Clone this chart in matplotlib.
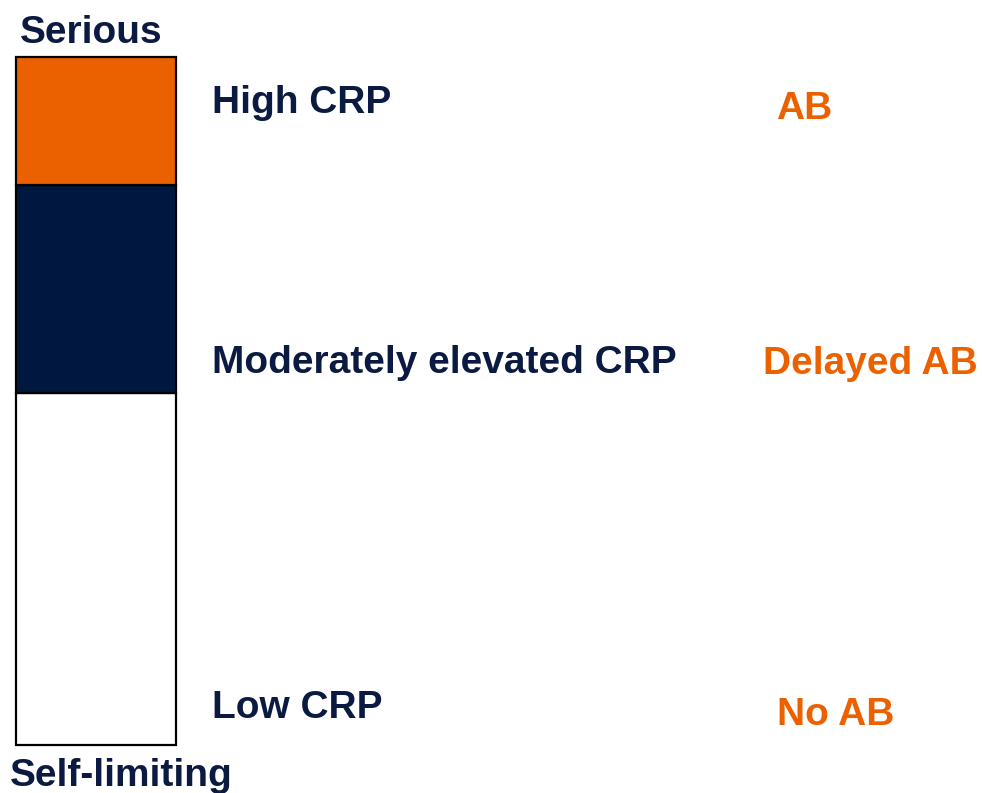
import matplotlib
matplotlib.use("Agg")
import matplotlib.pyplot as plt
from matplotlib import font_manager

# ---- data ----
segment_labels = ["Low CRP", "Moderately elevated CRP", "High CRP"]
segment_heights = [352, 208, 128]          # bottom -> top (relative sizes)
segment_colors = ["#FFFFFF", "#00173F", "#EB6100"]
actions = ["No AB", "Delayed AB", "AB"]
top_label = "Serious"
bottom_label = "Self-limiting"

NAVY = "#0B1A40"
ORANGE = "#EB6100"

names = {f.name for f in font_manager.fontManager.ttflist}
fam = ["Liberation Sans Narrow", "Liberation Sans", "DejaVu Sans"]
fam = [f for f in fam if f in names] + ["DejaVu Sans"]
narrow = "Liberation Sans Narrow" in names
FS = 33 if narrow else 28

W, H = 982, 793
fig = plt.figure(figsize=(W / 100, H / 100), dpi=100)
fig.patch.set_facecolor("white")

# bar axes
ax = fig.add_axes([16 / W, 48 / H, 160 / W, 688 / H])
bottom = 0
for h, c in zip(segment_heights, segment_colors):
    bars = ax.bar(0, h, bottom=bottom, width=1, color=c, edgecolor="black",
                  linewidth=1.6, align="center")
    for b in bars:
        b.set_clip_on(False)
    bottom += h
ax.set_xlim(-0.5, 0.5)
ax.set_ylim(0, sum(segment_heights))
ax.axis("off")

def put(x, y, s, color, size=FS):
    fig.text(x / W, 1 - y / H, s, color=color, fontsize=size, fontweight="bold",
             family=fam, ha="left", va="baseline")

put(20, 43, top_label, NAVY)
put(10, 786, bottom_label, NAVY)

label_x = 212
label_base = [718, 373, 113]
for s, yb in zip(segment_labels, label_base):
    put(label_x, yb, s, NAVY)

act_x = [777, 763, 776]
act_base = [725, 374, 119]
for s, x, yb in zip(actions, act_x, act_base):
    put(x, yb, s, ORANGE)

fig.savefig("out.png", dpi=100, facecolor="white")
